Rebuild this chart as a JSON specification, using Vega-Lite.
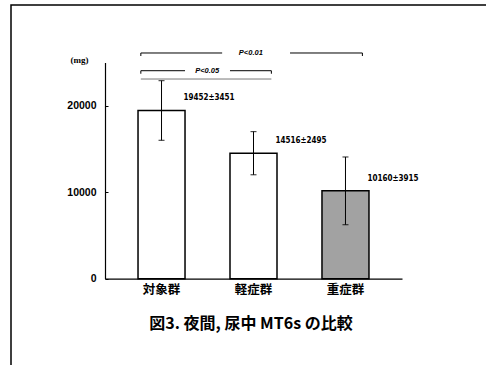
{
  "$schema": "https://vega.github.io/schema/vega-lite/v6.json",
  "autosize": {"type": "none"},
  "padding": {"left": 11, "top": 5, "right": -3, "bottom": -3},
  "width": 478,
  "height": 363,
  "background": "white",
  "config": {
    "view": {"stroke": "black", "strokeWidth": 1.5},
    "font": "Liberation Sans"
  },
  "datasets": {
    "groups": [
      {"group": "対象群", "mean": 19452, "sd": 3451},
      {"group": "軽症群", "mean": 14516, "sd": 2495},
      {"group": "重症群", "mean": 10160, "sd": 3915}
    ],
    "comparisons": [
      {"p": "P<0.01", "a": "対象群", "b": "重症群"},
      {"p": "P<0.05", "a": "対象群", "b": "軽症群"}
    ]
  },
  "title": {
    "text": "図3. 夜間, 尿中 MT6s の比較",
    "orient": "bottom",
    "offset": -44,
    "baseline": "middle",
    "anchor": "middle",
    "dx": 1,
    "font": "Noto Sans CJK JP",
    "fontSize": 16,
    "fontWeight": "bold",
    "color": "black"
  },
  "layer": [
    {
      "data": {"name": "groups"},
      "mark": {"type": "bar", "stroke": "black", "strokeWidth": 1.5},
      "encoding": {
        "x": {
          "field": "group",
          "type": "nominal",
          "sort": null,
          "scale": {
            "domain": ["対象群", "軽症群", "重症群"],
            "range": [94, 391],
            "paddingInner": 0.489,
            "paddingOuter": 0.359
          },
          "axis": {
            "title": null,
            "orient": "bottom",
            "offset": -89.3,
            "ticks": false,
            "domainColor": "black",
            "domainWidth": 1.2,
            "labelAngle": 0,
            "labelPadding": 5,
            "labelFont": "Noto Sans CJK JP",
            "labelFontSize": 12.5,
            "labelFontWeight": "bold",
            "labelColor": "black"
          }
        },
        "y": {
          "field": "mean",
          "type": "quantitative",
          "title": "(mg)",
          "scale": {"domain": [0, 25000], "range": [273.7, 57.5], "nice": false},
          "axis": {
            "titleAngle": 0,
            "titleX": -26,
            "titleY": 54,
            "titleAlign": "center",
            "titleBaseline": "middle",
            "titleFont": "Liberation Serif",
            "titleFontSize": 9,
            "titleFontWeight": "bold",
            "titleColor": "black",
            "offset": -94,
            "values": [0, 10000, 20000],
            "format": "d",
            "grid": false,
            "tickSize": -3,
            "tickColor": "black",
            "labelPadding": 12,
            "labelFont": "Liberation Sans",
            "labelFontSize": 10.5,
            "labelFontWeight": "bold",
            "labelColor": "black",
            "domainColor": "black",
            "domainWidth": 1.2
          }
        },
        "fill": {
          "field": "group",
          "type": "nominal",
          "scale": {"domain": ["対象群", "軽症群", "重症群"], "range": ["white", "white", "#a2a2a2"]},
          "legend": null
        }
      }
    },
    {
      "data": {"name": "groups"},
      "mark": {"type": "errorbar", "color": "black", "thickness": 1, "ticks": {"size": 6, "thickness": 1.2}},
      "encoding": {
        "x": {"field": "group", "type": "nominal"},
        "y": {"field": "mean", "type": "quantitative", "title": "(mg)"},
        "yError": {"field": "sd"}
      }
    },
    {
      "data": {"name": "groups"},
      "transform": [{"calculate": "datum.mean + '±' + datum.sd", "as": "label"}],
      "mark": {
        "type": "text",
        "align": "left",
        "baseline": "middle",
        "dx": 22,
        "dy": -12,
        "font": "DejaVu Sans Condensed",
        "fontSize": 8,
        "fontWeight": "bold",
        "color": "black"
      },
      "encoding": {
        "x": {"field": "group", "type": "nominal"},
        "y": {"field": "mean", "type": "quantitative", "title": "(mg)"},
        "text": {"field": "label"}
      }
    },
    {
      "data": {"name": "comparisons"},
      "transform": [{"filter": "datum.p == 'P<0.01'"}],
      "layer": [
        {
          "mark": {"type": "rule", "color": "black", "strokeWidth": 1},
          "encoding": {
            "x": {"field": "a", "type": "nominal", "bandPosition": 0.06},
            "x2": {"field": "a", "bandPosition": 1.79},
            "y": {"datum": 26100}
          }
        },
        {
          "mark": {"type": "rule", "color": "black", "strokeWidth": 1},
          "encoding": {
            "x": {"field": "b", "type": "nominal", "bandPosition": -0.68},
            "x2": {"field": "b", "bandPosition": 0.86},
            "y": {"datum": 26100}
          }
        },
        {
          "mark": {"type": "rule", "color": "black", "strokeWidth": 1},
          "encoding": {
            "x": {"field": "a", "type": "nominal", "bandPosition": 0.06},
            "y": {"datum": 26100},
            "y2": {"datum": 25750}
          }
        },
        {
          "mark": {"type": "rule", "color": "black", "strokeWidth": 1},
          "encoding": {
            "x": {"field": "b", "type": "nominal", "bandPosition": 0.86},
            "y": {"datum": 26100},
            "y2": {"datum": 25750}
          }
        },
        {
          "mark": {"type": "text", "fontSize": 7.5, "fontStyle": "italic", "fontWeight": "bold", "baseline": "middle", "color": "black"},
          "encoding": {
            "x": {"field": "a", "type": "nominal", "bandPosition": 2.4},
            "y": {"datum": 26100},
            "text": {"field": "p"}
          }
        }
      ]
    },
    {
      "data": {"name": "comparisons"},
      "transform": [{"filter": "datum.p == 'P<0.05'"}],
      "layer": [
        {
          "mark": {"type": "rule", "color": "black", "strokeWidth": 1},
          "encoding": {
            "x": {"field": "a", "type": "nominal", "bandPosition": 0.06},
            "x2": {"field": "a", "bandPosition": 1.0},
            "y": {"datum": 24050}
          }
        },
        {
          "mark": {"type": "rule", "color": "black", "strokeWidth": 1},
          "encoding": {
            "x": {"field": "b", "type": "nominal", "bandPosition": 0.0},
            "x2": {"field": "b", "bandPosition": 0.88},
            "y": {"datum": 24050}
          }
        },
        {
          "mark": {"type": "rule", "color": "black", "strokeWidth": 1},
          "encoding": {
            "x": {"field": "a", "type": "nominal", "bandPosition": 0.06},
            "y": {"datum": 24050},
            "y2": {"datum": 23700}
          }
        },
        {
          "mark": {"type": "rule", "color": "black", "strokeWidth": 1},
          "encoding": {
            "x": {"field": "b", "type": "nominal", "bandPosition": 0.88},
            "y": {"datum": 24050},
            "y2": {"datum": 23700}
          }
        },
        {
          "mark": {"type": "rule", "color": "#555555", "strokeWidth": 0.8},
          "encoding": {
            "x": {"field": "a", "type": "nominal", "bandPosition": 0.06},
            "x2": {"field": "b", "bandPosition": 0.88},
            "y": {"datum": 23090}
          }
        },
        {
          "mark": {"type": "text", "fontSize": 7.5, "fontStyle": "italic", "fontWeight": "bold", "baseline": "middle", "color": "black"},
          "encoding": {
            "x": {"field": "a", "type": "nominal", "bandPosition": 1.47},
            "y": {"datum": 24050},
            "text": {"field": "p"}
          }
        }
      ]
    }
  ]
}
